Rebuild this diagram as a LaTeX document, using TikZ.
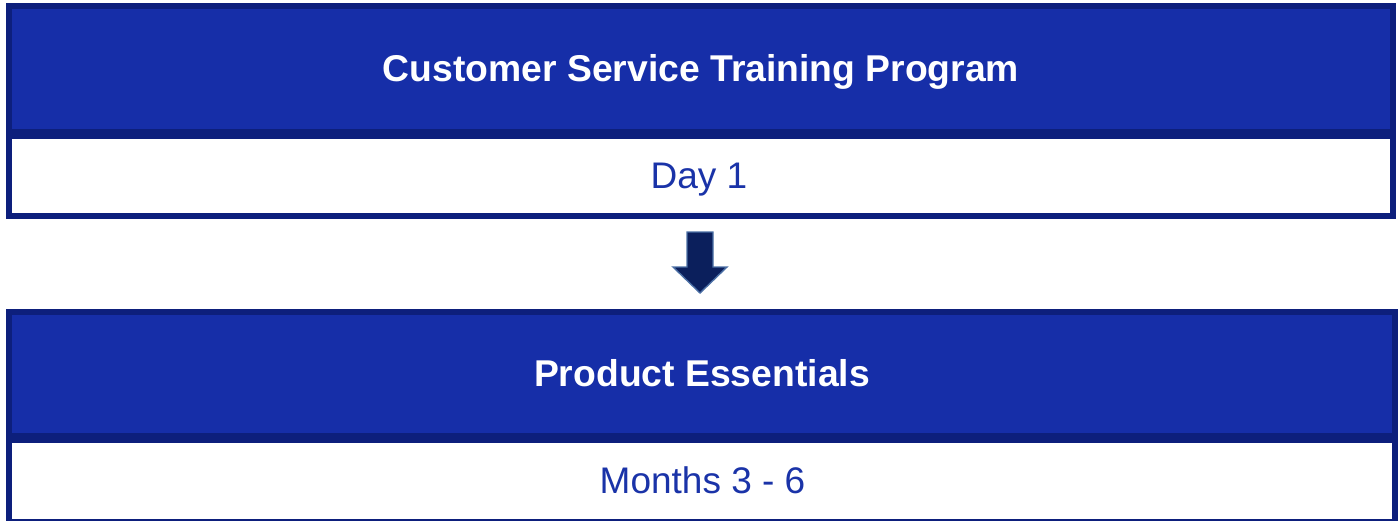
\documentclass[tikz,border=0pt]{standalone}
\usepackage{fontspec}
\setmainfont{Liberation Sans}
\usetikzlibrary{calc}
\definecolor{bordc}{HTML}{0D1F7C}
\definecolor{fillc}{HTML}{162EA8}
\definecolor{txtc}{HTML}{1A33A8}
\definecolor{arrfill}{HTML}{0B1F5C}
\definecolor{arrline}{HTML}{4B6FA5}
\begin{document}
\begin{tikzpicture}[x=1pt,y=-1pt,
  outerbox/.style={fill=bordc},
  bluebox/.style={fill=fillc},
  whitebox/.style={fill=white},
  titletext/.style={text=white,font=\fontsize{37.3}{42}\selectfont\bfseries,inner sep=0pt,anchor=base},
  subtext/.style={text=txtc,font=\fontsize{37}{42}\selectfont,inner sep=0pt,anchor=base}]
\useasboundingbox (0,0) rectangle (1399,520);
\begin{scope}
\clip (0,0) rectangle (1399,520);
% top block
\fill[outerbox] (6,3) rectangle (1396,219);
\fill[bluebox] (12,9) rectangle (1390,129);
\fill[whitebox] (12,139) rectangle (1390,213);
% bottom block
\fill[outerbox] (6,309) rectangle (1398,525);
\fill[bluebox] (12,315) rectangle (1392,433);
\fill[whitebox] (12,443) rectangle (1392,519);
\end{scope}
\node[titletext] (t1) at (701,81) {Customer Service Training Program};
\node[subtext] (s1) at (699,188) {Day 1};
\node[titletext] (t2) at (702,386) {Product Essentials};
\node[subtext] (s2) at (702.5,493) {Months 3 - 6};
% arrow
\coordinate (arr) at (700,232);
\draw[fill=arrfill,draw=arrline,line width=1.4pt,line join=miter]
  ($(arr)+(-13,0)$) -- ($(arr)+(13,0)$) -- ($(arr)+(13,35)$) -- ($(arr)+(27,35)$)
  -- ($(arr)+(0,61)$) -- ($(arr)+(-27,35)$) -- ($(arr)+(-13,35)$) -- cycle;
\end{tikzpicture}
\end{document}
